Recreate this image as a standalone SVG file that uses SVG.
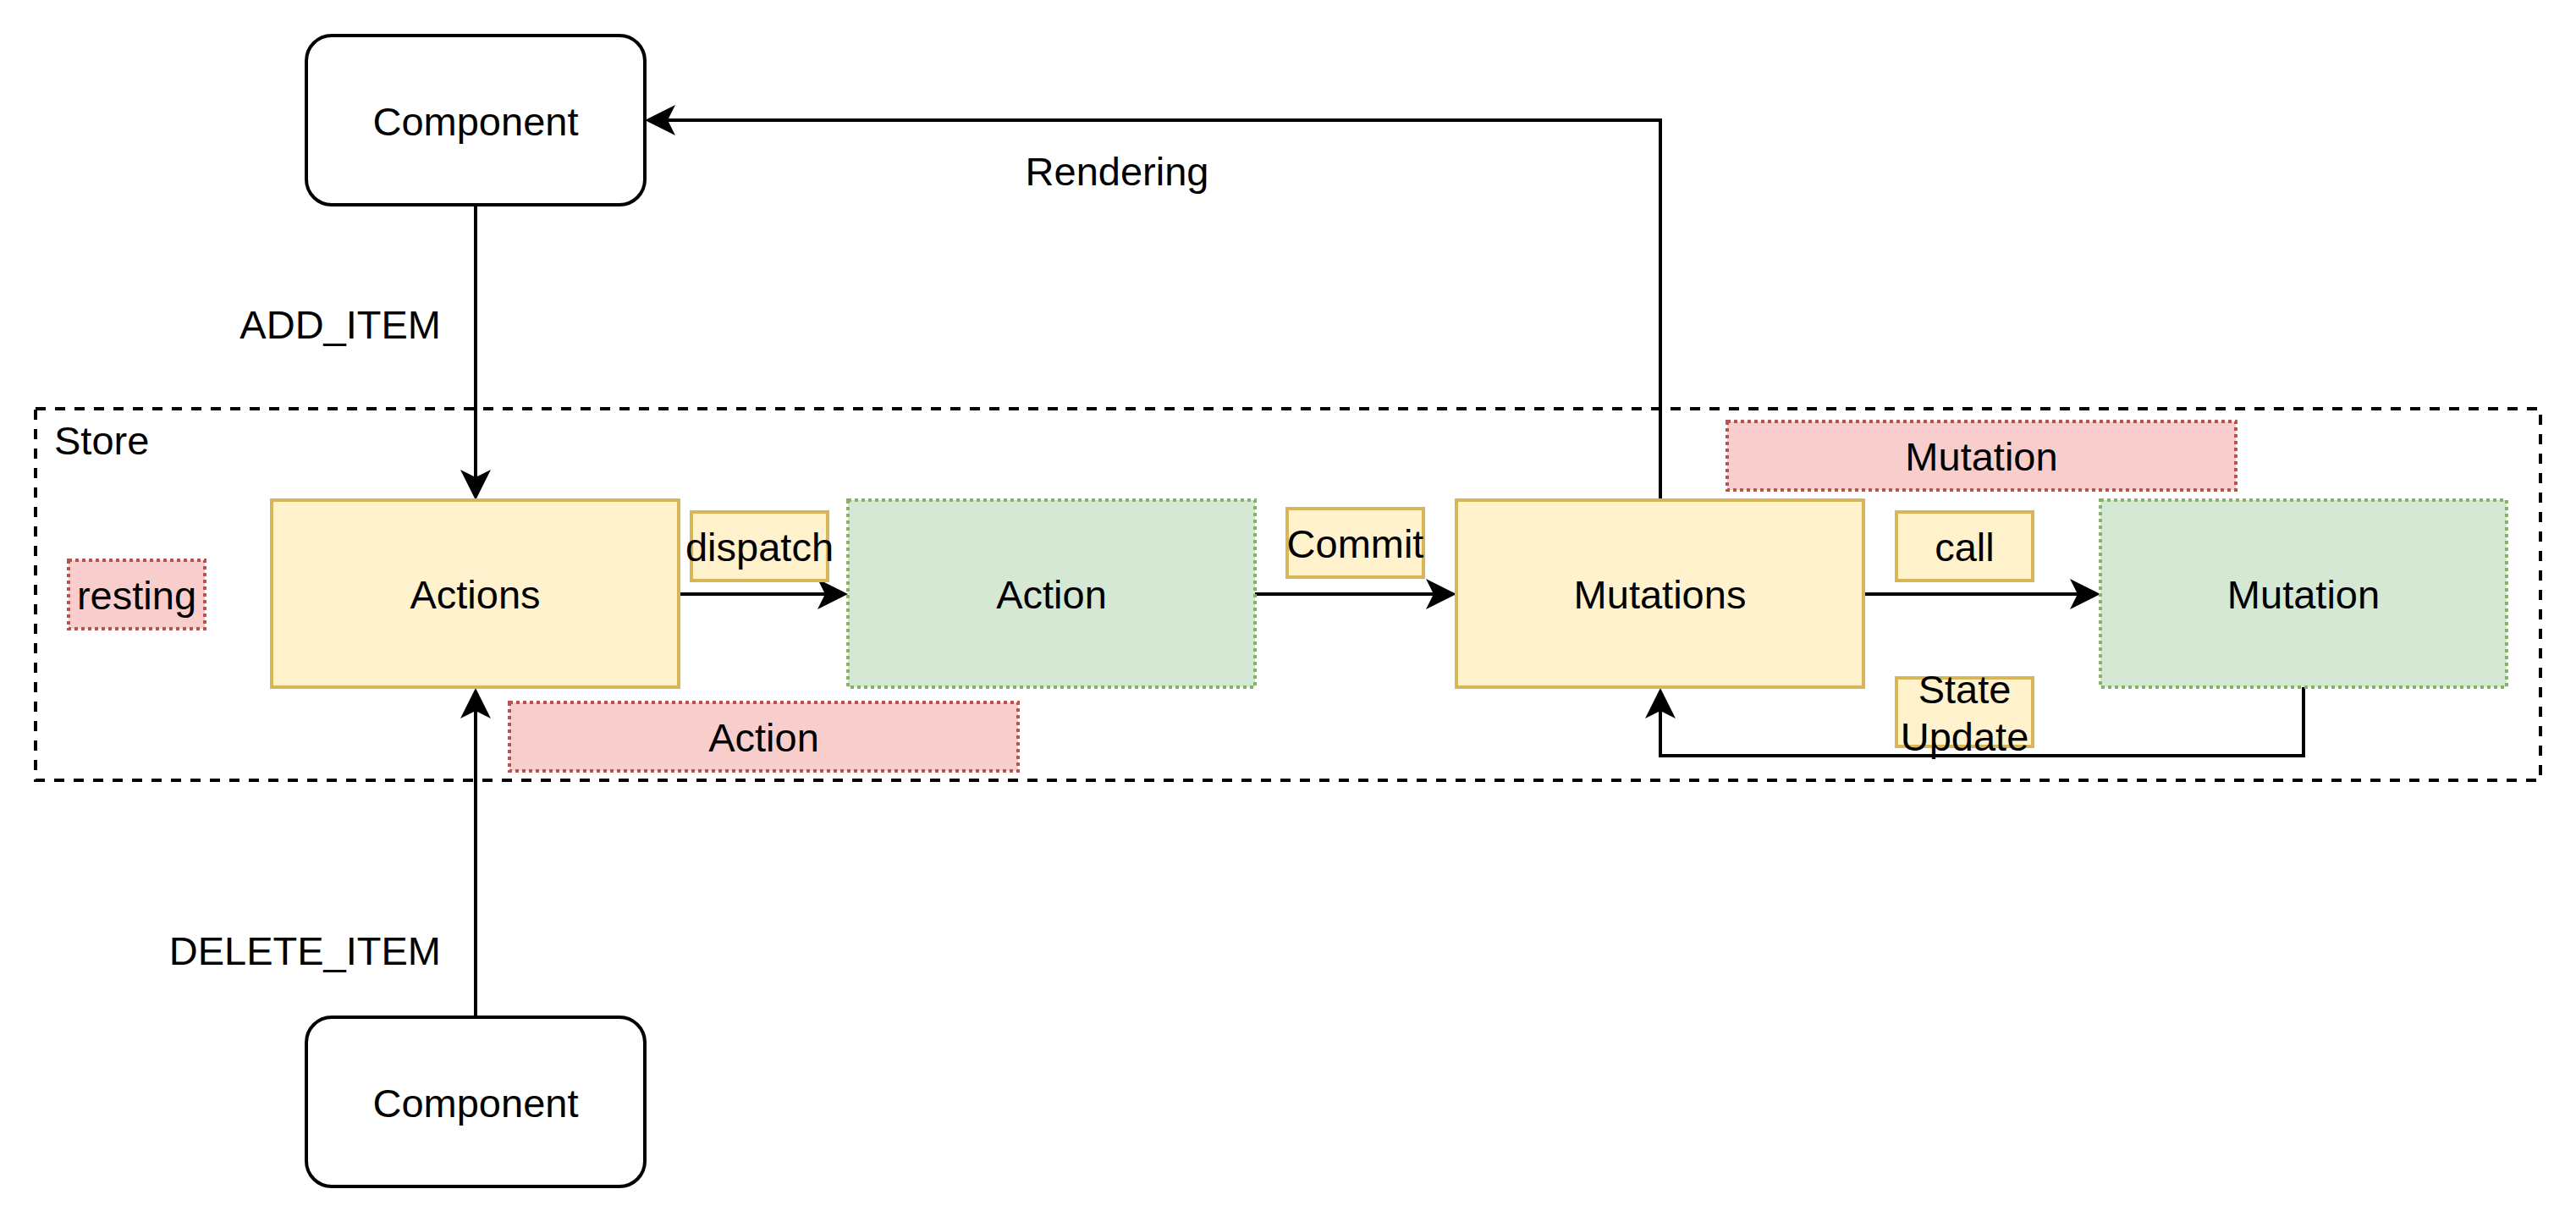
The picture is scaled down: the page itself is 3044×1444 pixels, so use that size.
<svg xmlns="http://www.w3.org/2000/svg" width="3044" height="1444" viewBox="0 0 3044 1444">
<style>
text{font-family:"Liberation Sans",Arial,sans-serif;font-size:47px;fill:#000}
.c{text-anchor:middle}
.plain{fill:#fff;stroke:#000;stroke-width:4}
.yellow{fill:#fff2cc;stroke:#d6b656;stroke-width:4}
.green{fill:#d5e8d4;stroke:#82b366;stroke-width:4;stroke-dasharray:4 4}
.red{fill:#f8cecc;stroke:#b85450;stroke-width:4;stroke-dasharray:4 4}
.edge{fill:none;stroke:#000;stroke-width:4}
</style>
<defs>
<marker id="arr" markerUnits="userSpaceOnUse" viewBox="0 0 36 36" markerWidth="36" markerHeight="36" refX="9" refY="18" orient="auto">
<path d="M0,0 L36,18 L0,36 L9,18 Z" fill="#000"/>
</marker>
</defs>
<rect width="3044" height="1444" fill="#fff"/>
<g id="store">
<rect x="42" y="483" width="2960" height="439" fill="none" stroke="#000" stroke-width="4" stroke-dasharray="12 11"/>
<text x="64" y="537">Store</text>
</g>
<g id="connectors">
<path class="edge" d="M562,242 V564" marker-end="url(#arr)"/>
<path class="edge" d="M562,1202 V840" marker-end="url(#arr)"/>
<path class="edge" d="M802,702 H975" marker-end="url(#arr)"/>
<path class="edge" d="M1483,702 H1694" marker-end="url(#arr)"/>
<path class="edge" d="M2202,702 H2455" marker-end="url(#arr)"/>
<path class="edge" d="M2722,812 V893 H1962 V840" marker-end="url(#arr)"/>
<path class="edge" d="M1962,591 V142 H789" marker-end="url(#arr)"/>
<text x="521" y="400" text-anchor="end">ADD_ITEM</text>
<text x="521" y="1140" text-anchor="end">DELETE_ITEM</text>
<text class="c" x="1320" y="219">Rendering</text>
</g>
<g id="component-top">
<rect class="plain" x="362" y="42" width="400" height="200" rx="30" ry="30"/>
<text class="c" x="562" y="160">Component</text>
</g>
<g id="component-bottom">
<rect class="plain" x="362" y="1202" width="400" height="200" rx="30" ry="30"/>
<text class="c" x="562" y="1320">Component</text>
</g>
<g id="resting">
<rect class="red" x="81" y="662" width="161" height="81"/>
<text class="c" x="161.5" y="720">resting</text>
</g>
<g id="actions">
<rect class="yellow" x="321" y="591" width="481" height="221"/>
<text class="c" x="561.5" y="719">Actions</text>
</g>
<g id="dispatch">
<rect class="yellow" x="817" y="605" width="161" height="81"/>
<text class="c" x="897.5" y="663">dispatch</text>
</g>
<g id="action-green">
<rect class="green" x="1002" y="591" width="481" height="221"/>
<text class="c" x="1242.5" y="719">Action</text>
</g>
<g id="action-red">
<rect class="red" x="602" y="830" width="601" height="81"/>
<text class="c" x="902.5" y="888">Action</text>
</g>
<g id="commit">
<rect class="yellow" x="1521" y="601" width="161" height="81"/>
<text class="c" x="1601.5" y="659">Commit</text>
</g>
<g id="mutations">
<rect class="yellow" x="1721" y="591" width="481" height="221"/>
<text class="c" x="1961.5" y="719">Mutations</text>
</g>
<g id="call">
<rect class="yellow" x="2241" y="605" width="161" height="81"/>
<text class="c" x="2321.5" y="663">call</text>
</g>
<g id="state-update">
<rect class="yellow" x="2241" y="801" width="161" height="81"/>
<text class="c" x="2321.5" y="831">State</text>
<text class="c" x="2321.5" y="887">Update</text>
</g>
<g id="mutation-red">
<rect class="red" x="2041" y="498" width="601" height="81"/>
<text class="c" x="2341.5" y="556">Mutation</text>
</g>
<g id="mutation-green">
<rect class="green" x="2482" y="591" width="480" height="221"/>
<text class="c" x="2722" y="719">Mutation</text>
</g>
</svg>
